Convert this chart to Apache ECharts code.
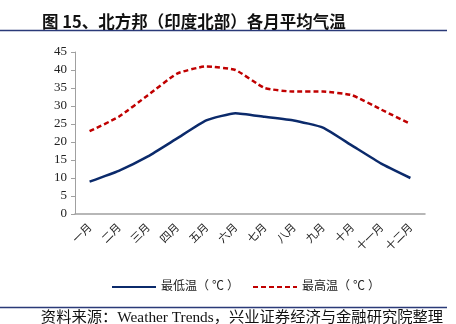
<!DOCTYPE html>
<html><head><meta charset="utf-8">
<script src="https://cdn.jsdelivr.net/npm/echarts@6/dist/echarts.min.js"></script>
<style>html,body{margin:0;padding:0;background:#fff}#c{width:456px;height:324px}</style>
</head><body><div id="c"></div>
<script>
const months = ['一月','二月','三月','四月','五月','六月','七月','八月','九月','十月','十一月','十二月'];
const lowTemp = [9,12,16,21,26,28,27,26,24,19,14,10];
const highTemp = [23,27,33,39,41,40,35,34,34,33,29,25];
const seriesNames = ['最低温（ ℃ ）','最高温（ ℃ ）'];
const yTicks = {min:0, max:45, interval:5};
const titleText = '图 15、北方邦（印度北部）各月平均气温';
const sourceText = '资料来源：Weather Trends，兴业证券经济与金融研究院整理';

const chart = echarts.init(document.getElementById('c'), null, {renderer:'canvas'});
const serif = '"Liberation Serif","Noto Sans CJK SC",serif';
chart.setOption({
  animation:false,
  backgroundColor:'#fff',
  title:{text:titleText,left:37,top:8,textStyle:{fontSize:16.5,fontWeight:'bold',color:'#111',fontFamily:'"Noto Sans CJK SC",sans-serif'}},
  graphic:[
    {type:'line',shape:{x1:0,y1:30.5,x2:447,y2:30.5},style:{stroke:'#2a3a78',lineWidth:1.5}},
    {type:'line',shape:{x1:0,y1:307.5,x2:447,y2:307.5},style:{stroke:'#2a3a78',lineWidth:1.5}},
    {type:'text',x:242,y:318,style:{text:sourceText,fill:'#111',font:'15.3px '+serif,textAlign:'center',textVerticalAlign:'middle'}}
  ],
  legend:{show:true,orient:'horizontal',top:276,left:106,itemWidth:44,itemHeight:12,itemGap:13,
    itemStyle:{opacity:0,borderWidth:0},
    textStyle:{fontSize:12,color:'#222',fontFamily:serif},
    data:seriesNames},
  grid:{left:75,right:31,top:52,bottom:110},
  xAxis:{type:'category',data:months,boundaryGap:true,
    axisLine:{lineStyle:{color:'#a0a0a0',width:1.5}},
    axisTick:{inside:true,length:4,lineStyle:{color:'#a0a0a0'}},
    axisLabel:{rotate:45,fontSize:11,color:'#222',margin:11,interval:0,fontFamily:'"Noto Sans CJK SC",sans-serif'}},
  yAxis:{type:'value',min:yTicks.min,max:yTicks.max,interval:yTicks.interval,
    splitLine:{show:false},
    axisLine:{show:true,lineStyle:{color:'#a0a0a0',width:1}},
    axisTick:{show:true,length:4,lineStyle:{color:'#a0a0a0'}},
    axisLabel:{fontSize:13,color:'#222',margin:8,fontFamily:serif}},
  series:[
    {name:seriesNames[0],type:'line',data:lowTemp,symbol:'none',smooth:0.15,
      lineStyle:{color:'#0b2a6b',width:2.5},itemStyle:{color:'#0b2a6b'}},
    {name:seriesNames[1],type:'line',data:highTemp,symbol:'none',smooth:0.15,
      lineStyle:{color:'#c00000',width:2.5,type:[5,3]},itemStyle:{color:'#c00000'}}
  ]
});
</script></body></html>
